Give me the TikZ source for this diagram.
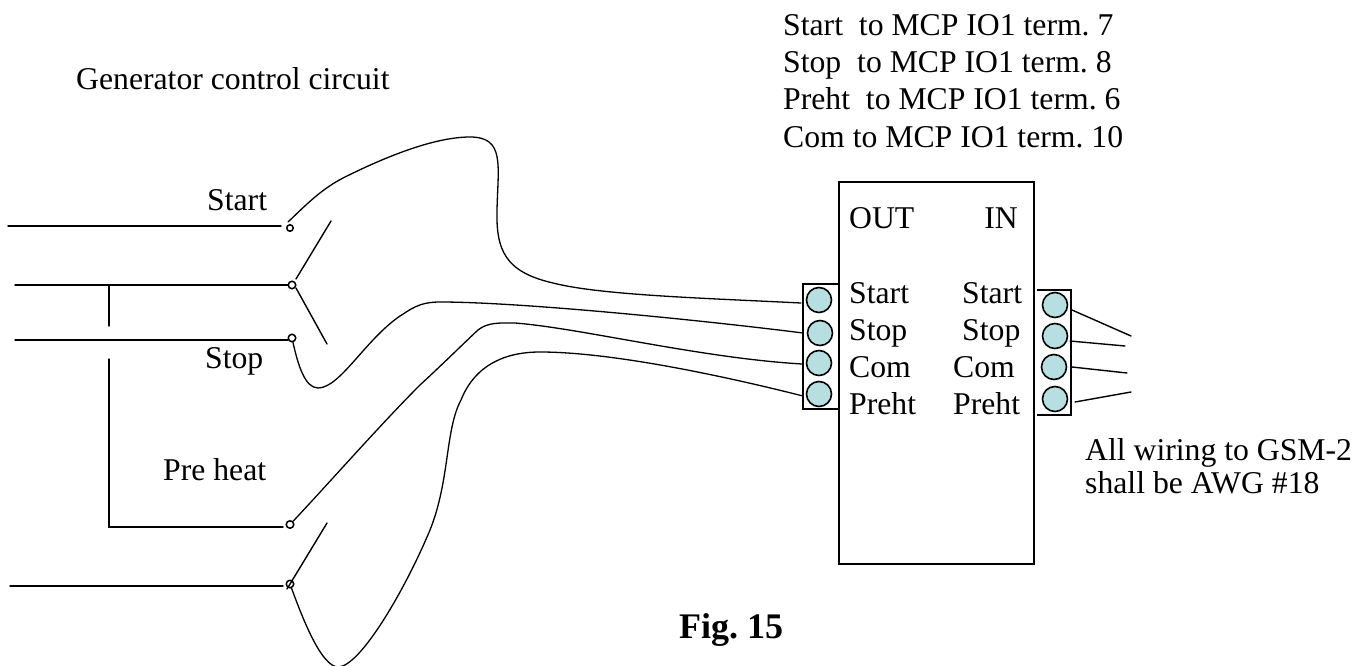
\documentclass[tikz,border=0pt]{standalone}
\usepackage{fontspec}
\setmainfont{Liberation Serif}
\begin{document}
\frenchspacing
\begin{tikzpicture}[x=1pt,y=-1pt,
  wire/.style={line width=1.4pt,black,line cap=round},
  curve/.style={line width=1.3pt,black,line cap=round},
  term/.style={circle,draw=black,line width=1.6pt,fill=termfill,minimum size=25pt,inner sep=0pt},
  sw/.style={circle,draw=black,line width=1.5pt,fill=white,minimum size=7.5pt,inner sep=0pt},
  lab/.style={font=\fontsize{31.7pt}{36pt}\selectfont,anchor=base west,inner sep=0pt,text=black},
  box/.style={draw=black,line width=1.5pt}]
\definecolor{termfill}{RGB}{183,222,225}
\useasboundingbox (0,0) rectangle (1370,666);
% main box and brackets
\node[box,minimum width=195pt,minimum height=382pt,inner sep=0pt,anchor=north west] (unit) at (838,181) {};
\draw[box] (838,284) -- (803,284) -- (803,409) -- (838,409);
\draw[box] (1037,290) -- (1071,290) -- (1071,415) -- (1037,415);
% terminals
\node[term] (L1) at (819,300) {};
\node[term] (L2) at (820,333) {};
\node[term] (L3) at (819,363) {};
\node[term] (L4) at (819,394) {};
\node[term] (R1) at (1055,305) {};
\node[term] (R2) at (1055,336) {};
\node[term] (R3) at (1054,367) {};
\node[term] (R4) at (1055,399) {};
% free ends on right
\coordinate (r1) at (1131,336);
\coordinate (r2) at (1125,346);
\coordinate (r3) at (1127,373);
\coordinate (r4) at (1131,392);
\draw[wire] (1072,310) -- (r1);
\draw[wire] (1070,341) -- (r2);
\draw[wire] (1072,367) -- (r3);
\draw[wire] (1075,402) -- (r4);
% incoming lines
\coordinate (a1) at (8,226);
\coordinate (a2) at (15,285);
\coordinate (a3) at (15,340);
\coordinate (a5) at (10,586);
\coordinate (j1) at (109,285);
\coordinate (j2) at (109,326);
\coordinate (j3) at (109,359);
\coordinate (j4) at (109,527);
\draw[wire] (a1) -- (281,226);
\draw[wire] (a2) -- (288,285);
\draw[wire] (a3) -- (288,340);
\draw[wire] (a5) -- (283,586);
\draw[wire] (j1) -- (j2);
\draw[wire,line join=miter] (j3) -- (j4) -- (283,527);
% switch contacts
\node[sw,minimum size=6.5pt] (s1) at (290,228) {};
\node[sw] (s2) at (292,285) {};
\node[sw] (s3) at (292,338) {};
\node[sw] (s4) at (290,524.5) {};
\node[sw] (s5) at (290,584) {};
% switch arms
\coordinate (t2) at (331,221);
\coordinate (t3) at (327,344);
\coordinate (t5) at (327,523);
\draw[wire] (296,279) -- (t2);
\draw[wire] (296,288) -- (t3);
\draw[wire] (287,589) -- (t5);
% curves
\draw[curve] (288,222) .. controls (305,206) and (320,190) .. (343,178)
  .. controls (375,162) and (430,137) .. (470,137)
  .. controls (505,137) and (498,165) .. (497,210)
  .. controls (496,250) and (505,272) .. (553,283)
  .. controls (600,295) and (700,298) .. (801,303);
\draw[curve] (s3) .. controls (298,365) and (305,388) .. (318,388)
  .. controls (340,388) and (365,340) .. (400,316)
  .. controls (410,310) and (418,302) .. (440,302)
  .. controls (520,302) and (700,320) .. (803,333);
\draw[curve] (s4) .. controls (330,482) and (380,425) .. (420,385)
  .. controls (445,362) and (465,342) .. (478,330)
  .. controls (488,322) and (500,323) .. (515,323)
  .. controls (580,328) and (700,358) .. (802,364);
\draw[curve] (s5) .. controls (305,625) and (322,666) .. (338,667)
  .. controls (360,667) and (405,590) .. (430,530)
  .. controls (450,480) and (445,430) .. (461,400)
  .. controls (475,365) and (505,352) .. (540,352)
  .. controls (610,352) and (720,375) .. (803,396);
% labels
\node[lab] (t0) at (76,90) {Generator control circuit};
\node[lab] (t1) at (783,36) {Start\ \ to MCP IO1 term. 7};
\node[lab] (t2x) at (783,73) {Stop\ \ to MCP IO1 term. 8};
\node[lab] (t3x) at (783,110) {Preht\ \ to MCP IO1 term. 6};
\node[lab] (t4x) at (783,147) {Com to MCP IO1 term. 10};
\node[lab] (ls) at (207,210) {Start};
\node[lab] (lst) at (205,368) {Stop};
\node[lab] (lp) at (163,480) {Pre heat};
\node[lab] (o) at (849,228) {OUT};
\node[lab,anchor=base east] (i) at (1018,228) {IN};
\node[lab] (a) at (849,303) {Start};
\node[lab] (b) at (849,340) {Stop};
\node[lab] (c) at (849,377) {Com};
\node[lab] (d) at (849,414) {Preht};
\node[lab] (e) at (962,303) {Start};
\node[lab] (f) at (962,340) {Stop};
\node[lab] (g) at (953,377) {Com};
\node[lab] (h) at (953,414) {Preht};
\node[lab] (w1) at (1085,460) {All wiring to GSM-2};
\node[lab] (w2) at (1085,493) {shall be AWG \#18};
\node[lab,font=\fontsize{36pt}{40pt}\selectfont\bfseries] (fig) at (679,638) {Fig. 15};
\end{tikzpicture}
\end{document}
